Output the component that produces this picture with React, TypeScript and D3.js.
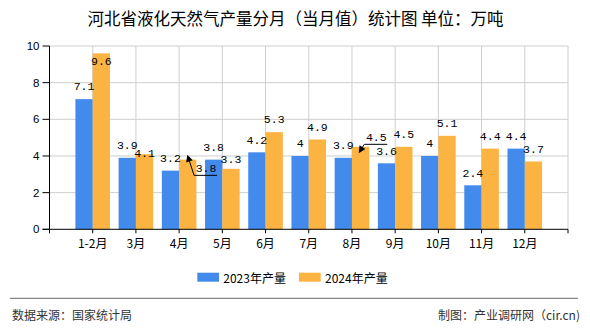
import React from "react";
import * as d3 from "d3";

const months = ["1-2月", "3月", "4月", "5月", "6月", "7月", "8月", "9月", "10月", "11月", "12月"];
const prod2023 = [7.1, 3.9, 3.2, 3.8, 4.2, 4, 3.9, 3.6, 4, 2.4, 4.4];
const prod2024 = [9.6, 4.1, 3.8, 3.3, 5.3, 4.9, 4.5, 4.5, 5.1, 4.4, 3.7];
const yTicks = [0, 2, 4, 6, 8, 10];
const seriesNames = ["2023年产量", "2024年产量"];

// label layout tweaks for the 2024 series (collision avoidance in the original)
const nudge2024: { dx: number; dy: number; arrow?: boolean }[] = [
  { dx: 0, dy: 20.7 },
  { dx: 0, dy: 11.5 },
  { dx: 18.3, dy: 21, arrow: true },
  { dx: 0, dy: 2.5 },
  { dx: 0, dy: 0 },
  { dx: 0, dy: 0 },
  { dx: 15.7, dy: 2.8, arrow: true },
  { dx: 0, dy: 0 },
  { dx: 0, dy: 0 },
  { dx: 0, dy: 0 },
  { dx: 0, dy: 0 },
];

const W = 590;
const H = 330;
const left = 49.5;
const right = 568;
const top = 46;
const bottom = 229.3;
const BLUE = "#428BED";
const ORANGE = "#FBB442";
const CJK = "'Noto Sans CJK SC', 'Noto Sans', sans-serif";
const MONO = "'Liberation Mono', 'DejaVu Sans Mono', monospace";

export default function App() {
  const x = d3
    .scalePoint<string>()
    .domain(["__start", ...months, "__end"])
    .range([left, right]);
  const y = d3.scaleLinear().domain([0, 10]).range([bottom, top]);
  const bw = 17.3;
  const slots = x.domain();

  return (
    <svg
      width={W}
      height={H}
      style={{ position: "absolute", left: 0, top: 0, background: "#fff" }}
      xmlns="http://www.w3.org/2000/svg"
    >
      <defs>
        <marker
          id="ah"
          viewBox="0 0 10 10"
          refX="1"
          refY="5"
          markerWidth="8"
          markerHeight="7"
          markerUnits="userSpaceOnUse"
          orient="auto-start-reverse"
        >
          <path d="M0,0 L10,5 L0,10 z" fill="#000" />
        </marker>
      </defs>
      {/* title */}
      <text
        x={295.5}
        y={18}
        textAnchor="middle"
        dominantBaseline="central"
        fontFamily={CJK}
        fontSize={16.5}
        fill="#000"
      >
        河北省液化天然气产量分月（当月值）统计图 单位：万吨
      </text>

      {/* horizontal grid */}
      {yTicks.filter((t) => t > 0).map((t) => (
        <line key={"hg" + t} x1={left} x2={right} y1={y(t)} y2={y(t)} stroke="#cfcfcf" strokeWidth={1} />
      ))}
      {/* vertical grid at category centres and right edge */}
      {slots.slice(1).map((s) => (
        <line key={"vg" + s} x1={x(s)!} x2={x(s)!} y1={top} y2={bottom} stroke="#cfcfcf" strokeWidth={1} />
      ))}

      {/* bars */}
      {months.map((m, i) => {
        const c = x(m)!;
        return (
          <g key={"b" + m}>
            <rect x={c - bw} y={y(prod2023[i])} width={bw} height={bottom - y(prod2023[i])} fill={BLUE} />
            <rect x={c} y={y(prod2024[i])} width={bw} height={bottom - y(prod2024[i])} fill={ORANGE} />
          </g>
        );
      })}

      {/* axes */}
      <line x1={left} x2={left} y1={top} y2={bottom} stroke="#000" strokeWidth={1} />
      <line x1={left - 7} x2={right} y1={bottom} y2={bottom} stroke="#000" strokeWidth={1} />
      {yTicks.map((t) => (
        <g key={"yt" + t}>
          <line x1={left - 7} x2={left} y1={y(t)} y2={y(t)} stroke="#000" />
          <text
            x={39.5}
            y={y(t)}
            textAnchor="end"
            dominantBaseline="central"
            fontFamily="'Liberation Sans', Arial, sans-serif"
            fontSize={11.5}
            fill="#000"
          >
            {t}
          </text>
        </g>
      ))}
      {slots.map((s) => (
        <line key={"xt" + s} x1={x(s)!} x2={x(s)!} y1={bottom} y2={bottom + 4} stroke="#000" />
      ))}
      {months.map((m) => (
        <text
          key={"xl" + m}
          x={x(m)!}
          y={242}
          textAnchor="middle"
          dominantBaseline="central"
          fontFamily={CJK}
          fontSize={12}
          fill="#000"
        >
          {m}
        </text>
      ))}

      {/* value labels */}
      {months.map((m, i) => {
        const c = x(m)!;
        const t1 = y(prod2023[i]);
        const t2 = y(prod2024[i]);
        const n = nudge2024[i];
        const lx = c + bw / 2 + n.dx;
        const ly = t2 - 12.3 + n.dy;
        return (
          <g key={"l" + m} fontFamily={MONO} fontSize={11.5} fill="#000">
            <text x={c - bw / 2} y={t1 - 12.3} textAnchor="middle" dominantBaseline="central">
              {prod2023[i]}
            </text>
            <text x={lx} y={ly} textAnchor="middle" dominantBaseline="central">
              {prod2024[i]}
            </text>
            {n.arrow && (
              <path
                d={`M${c + bw / 2 + 1.5},${t2 + 1} L${lx - 12},${ly + 7} L${lx + 11},${ly + 7}`}
                fill="none"
                stroke="#000"
                strokeWidth={1}
                markerStart="url(#ah)"
              />
            )}
          </g>
        );
      })}

      {/* legend */}
      {seriesNames.map((s, i) => {
        const lx0 = 197.3 + i * 101.7;
        return (
          <g key={"lg" + s}>
            <rect x={lx0} y={272.7} width={21.7} height={9} fill={i === 0 ? BLUE : ORANGE} />
            <text
              x={lx0 + 26}
              y={277.2}
              dominantBaseline="central"
              fontFamily={CJK}
              fontSize={12}
              fill="#000"
            >
              {s}
            </text>
          </g>
        );
      })}

      {/* footer */}
      <line x1={10} x2={578} y1={298.3} y2={298.3} stroke="#888" strokeWidth={1.3} />
      <text x={12} y={314.3} dominantBaseline="central" fontFamily={CJK} fontSize={12} fill="#333">
        数据来源：国家统计局
      </text>
      <text x={580} y={314.3} textAnchor="end" dominantBaseline="central" fontFamily={CJK} fontSize={12} fill="#333">
        制图：产业调研网（cir.cn)
      </text>
    </svg>
  );
}
